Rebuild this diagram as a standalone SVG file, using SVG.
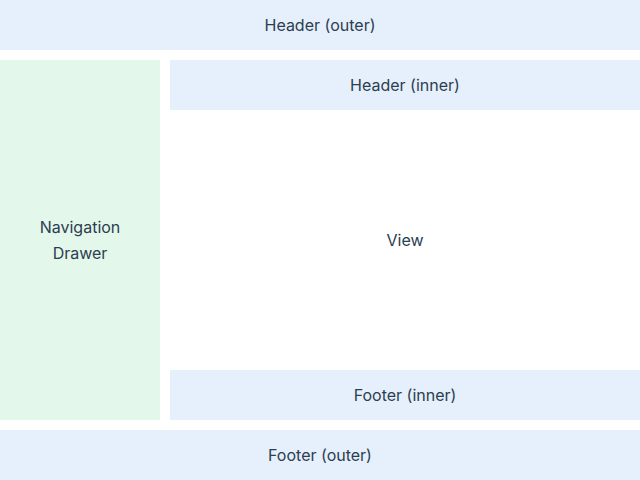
<svg xmlns="http://www.w3.org/2000/svg" width="640" height="480" viewBox="0 0 640 480">
<style>
.blue{fill:#e5f0fc}
.green{fill:#e4f7eb}
text{font-family:Inter,"Noto Sans","Liberation Sans",sans-serif;font-size:16px;fill:#2c3e50;text-anchor:middle;dominant-baseline:central}
</style>
<rect width="640" height="480" fill="#ffffff"/>
<g id="header-outer"><rect class="blue" x="0" y="0" width="640" height="50"/><text x="320" y="25">Header (outer)</text></g>
<g id="nav-drawer"><rect class="green" x="0" y="60" width="160" height="360"/><text x="80" y="227">Navigation</text><text x="80" y="253">Drawer</text></g>
<g id="header-inner"><rect class="blue" x="170" y="60" width="470" height="50"/><text x="405" y="85">Header (inner)</text></g>
<g id="view"><text x="405" y="240">View</text></g>
<g id="footer-inner"><rect class="blue" x="170" y="370" width="470" height="50"/><text x="405" y="395">Footer (inner)</text></g>
<g id="footer-outer"><rect class="blue" x="0" y="430" width="640" height="50"/><text x="320" y="455">Footer (outer)</text></g>
<g id="connectors"></g>
</svg>
